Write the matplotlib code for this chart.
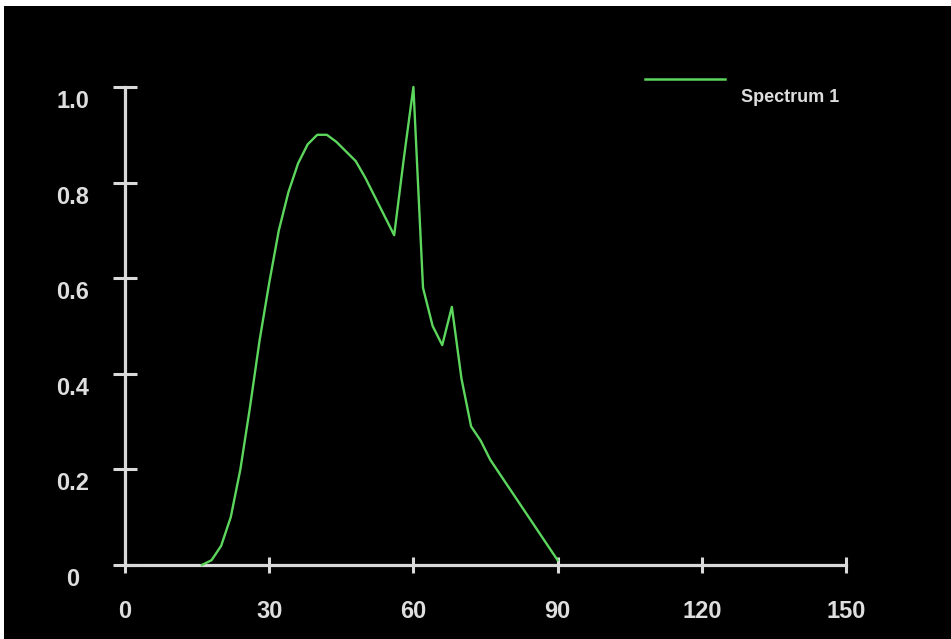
import matplotlib
matplotlib.use("Agg")
import matplotlib.pyplot as plt
from matplotlib.patches import Rectangle
from matplotlib.lines import Line2D
from matplotlib.transforms import ScaledTranslation

# ---- data ----
wavelength = [16, 18, 20, 22, 24, 26, 28, 30, 32, 34, 36, 38, 40, 42, 44, 46, 48,
              50, 52, 54, 56, 58, 60, 62, 64, 66, 68, 70, 72, 74, 76, 78, 80,
              82, 84, 86, 88, 90]
intensity = [0.0, 0.01, 0.04, 0.10, 0.20, 0.33, 0.47, 0.59, 0.70, 0.78, 0.84,
             0.88, 0.90, 0.90, 0.885, 0.865, 0.845, 0.81, 0.77, 0.73, 0.69,
             0.85, 1.0, 0.58, 0.50, 0.46, 0.54, 0.39, 0.29, 0.26, 0.22, 0.19,
             0.16, 0.13, 0.10, 0.07, 0.04, 0.01]
series_name = "Spectrum 1"
x_ticks = [0, 30, 60, 90, 120, 150]
x_tick_labels = ["0", "30", "60", "90", "120", "150"]
y_ticks = [0, 0.2, 0.4, 0.6, 0.8, 1.0]
y_tick_labels = ["0", "0.2", "0.4", "0.6", "0.8", "1.0"]

W, H = 951, 639
plt.rcParams['font.family'] = ['Liberation Sans', 'DejaVu Sans']
fig = plt.figure(figsize=(W / 100, H / 100), dpi=100)
fig.patch.set_facecolor("white")
fig.patches.append(Rectangle((4 / W, 0), 1, 1 - 6 / H, transform=fig.transFigure,
                             facecolor="black", edgecolor="none", zorder=-10))

ax = fig.add_axes([125 / W, 74 / H, 721 / W, 478 / H])
ax.patch.set_visible(False)
line_color = "#5cd65c"
axis_color = "#d9d9d9"
text_color = "#dedede"

ax.plot(wavelength, intensity, color=line_color, lw=1.7, clip_on=False, zorder=3)
ax.set_xlim(0, 150)
ax.set_ylim(0, 1)

for s in ["top", "right"]:
    ax.spines[s].set_visible(False)
for s in ["left", "bottom"]:
    ax.spines[s].set_color(axis_color)
    ax.spines[s].set_linewidth(2.3)

ax.set_xticks(x_ticks)
ax.set_xticklabels(x_tick_labels, fontweight="bold")
ax.set_yticks(y_ticks)
ax.set_yticklabels(y_tick_labels, fontweight="bold")

ax.tick_params(axis="x", direction="inout", length=11, width=2.2, color=axis_color,
               labelcolor=text_color, labelsize=17, pad=20)
ax.tick_params(axis="y", direction="inout", length=17, width=2.2, color=axis_color,
               labelcolor=text_color, labelsize=17, pad=29)
for lab in ax.get_yticklabels():
    lab.set_horizontalalignment("center")
    lab.set_transform(lab.get_transform() + ScaledTranslation(0, -12 / 100, fig.dpi_scale_trans))

# legend (manual)
fig.lines.append(Line2D([645 / W, 725 / W], [1 - 79 / H, 1 - 79 / H], transform=fig.transFigure,
                        color=line_color, lw=1.8))
fig.text(741 / W, 1 - 97 / H, series_name, color=text_color, fontsize=13,
         fontweight="bold", ha="left", va="center")

fig.savefig("out.png", dpi=100, facecolor=fig.get_facecolor())
